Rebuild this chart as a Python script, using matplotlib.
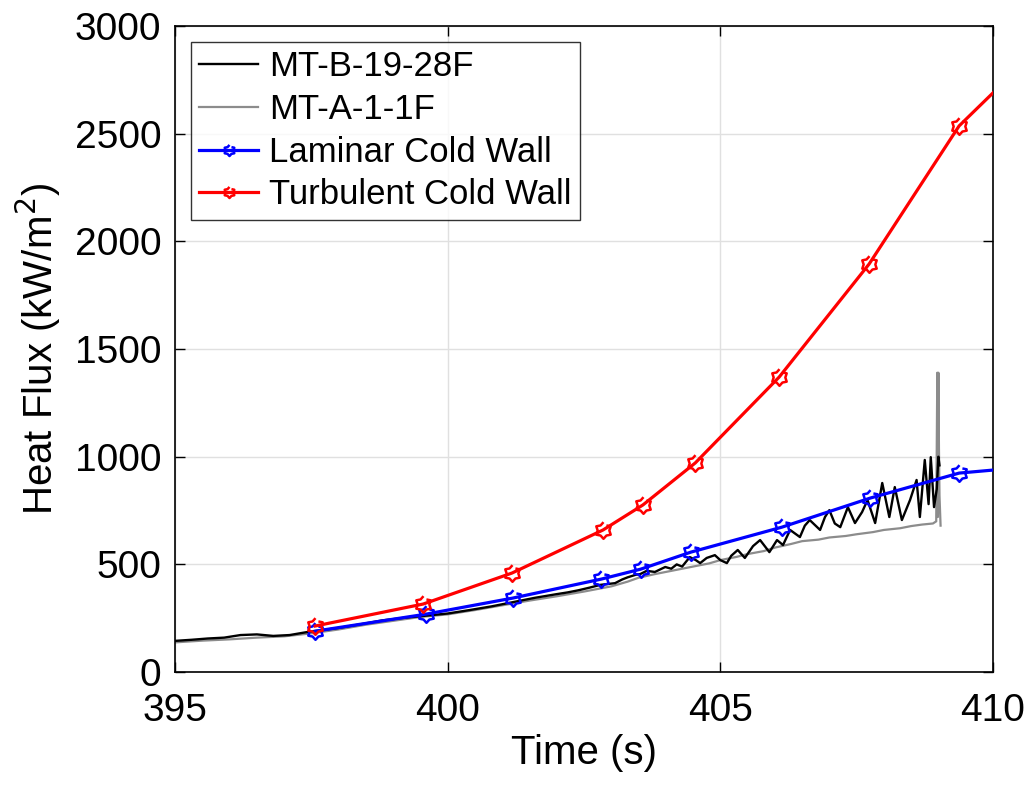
import numpy as np
import matplotlib
matplotlib.use('Agg')
import matplotlib.pyplot as plt

plt.rcParams['font.family'] = ['Liberation Sans', 'DejaVu Sans']

t_black = [395.0, 395.3, 395.6, 395.9, 396.2, 396.5, 396.8, 397.1, 397.4, 397.7,
           398.0, 398.4, 398.8, 399.2, 399.6, 400.0, 400.4, 400.8, 401.2, 401.6,
           402.0, 402.2, 402.4, 402.6, 402.8, 403.07, 403.2, 403.3, 403.45, 403.53,
           403.65, 403.8, 403.99, 404.1, 404.2, 404.3, 404.44, 404.55, 404.63, 404.75,
           404.9, 405.0, 405.12, 405.2, 405.32, 405.45, 405.6, 405.73, 405.9, 406.04,
           406.15, 406.28, 406.46, 406.55, 406.64, 406.83, 406.92, 407.0, 407.1, 407.2,
           407.34, 407.47, 407.6, 407.7, 407.84, 407.97, 408.1, 408.2, 408.33, 408.48,
           408.6, 408.66, 408.75, 408.82, 408.86, 408.92, 408.97, 409.0, 409.02]
q_black = [145, 150, 156, 160, 172, 175, 168, 172, 185, 195,
           205, 222, 240, 252, 262, 272, 288, 305, 325, 345,
           362, 370, 380, 392, 405, 413, 430, 440, 452, 455,
           470, 465, 488, 480, 500, 490, 534, 520, 506, 530,
           543, 520, 506, 540, 567, 530, 585, 613, 557, 613,
           590, 660, 627, 680, 706, 660, 720, 752, 690, 673,
           766, 692, 743, 799, 692, 878, 720, 859, 706, 799,
           892, 720, 985, 780, 998, 766, 850, 1000, 960]

t_grey = [395.0, 395.5, 396.0, 396.5, 397.0, 397.5, 398.0, 398.5, 399.0, 399.5,
          400.0, 400.5, 401.0, 401.5, 402.0, 402.5, 403.0, 403.3, 403.5, 403.8,
          404.0, 404.3, 404.5, 404.8, 405.0, 405.3, 405.5, 405.8, 406.0, 406.3,
          406.5, 406.8, 407.0, 407.3, 407.5, 407.8, 408.0, 408.3, 408.5, 408.7,
          408.9, 408.96, 408.98, 408.99, 409.0, 409.01, 409.02, 409.04]
q_grey = [138, 146, 152, 160, 166, 180, 198, 220, 238, 256,
          268, 288, 310, 332, 352, 374, 398, 420, 438, 455,
          465, 480, 490, 505, 520, 535, 548, 562, 578, 595,
          608, 615, 625, 632, 640, 650, 660, 668, 678, 685,
          690, 700, 1390, 720, 1390, 1040, 820, 680]

# model predictions
t_lam = [397.57, 399.6, 401.2, 402.82, 403.54, 404.46, 406.13, 407.75, 409.38, 410.0]
q_lam = [190, 269, 344, 432, 478, 557, 673, 808, 924, 938]

t_turb = [397.57, 399.55, 401.18, 402.85, 403.58, 404.54, 406.08, 407.73, 409.38, 410.0]
q_turb = [214, 316, 460, 660, 776, 971, 1370, 1895, 2536, 2689]

# MATLAB-style hexagram marker
ang = np.pi / 2 + np.arange(12) * np.pi / 6
rad = np.where(np.arange(12) % 2 == 0, 1.0, 0.7)
hexagram = np.column_stack([rad * np.cos(ang), rad * np.sin(ang)])

fig = plt.figure(figsize=(10.3, 7.87), dpi=100)
ax = fig.add_axes([0.170, 0.146, 0.794, 0.821])

ax.plot(t_black, q_black, color='black', lw=1.7, label='MT-B-19-28F', zorder=3)
ax.plot(t_grey, q_grey, color='#8c8c8c', lw=1.6, label='MT-A-1-1F', zorder=2)
mark_idx = list(range(len(t_lam) - 1))
ax.plot(t_lam, q_lam, color='blue', lw=2.3, marker=hexagram, markersize=12,
        mfc='none', mew=1.8, markevery=mark_idx, label='Laminar Cold Wall', zorder=4)
ax.plot(t_turb, q_turb, color='red', lw=2.3, marker=hexagram, markersize=12,
        mfc='none', mew=1.8, markevery=mark_idx, label='Turbulent Cold Wall', zorder=4)

ax.set_xlim(395, 410)
ax.set_ylim(0, 3000)
ax.set_xticks([395, 400, 405, 410])
ax.set_yticks(np.arange(0, 3001, 500))
ax.grid(True, color='#e0e0e0', lw=1)
ax.set_axisbelow(True)
ax.tick_params(direction='in', top=True, right=True, labelsize=28, length=7, width=1)
ax.tick_params(axis='x', pad=15)
ax.tick_params(axis='y', pad=10)
for s in ax.spines.values():
    s.set_linewidth(1.2)

ax.set_xlabel('Time (s)', fontsize=29, labelpad=4)
ax.set_ylabel('Heat Flux (kW/m$^2$)', fontsize=29, labelpad=8)

leg = ax.legend(loc='upper left', fontsize=25, frameon=True, fancybox=False,
                edgecolor='black', borderaxespad=0.45, handlelength=1.7,
                handletextpad=0.3, labelspacing=0.28, borderpad=0.25)
leg.get_frame().set_linewidth(1.0)
for h in leg.legend_handles:
    h.set_markersize(8)

fig.savefig('out.png', dpi=100)
